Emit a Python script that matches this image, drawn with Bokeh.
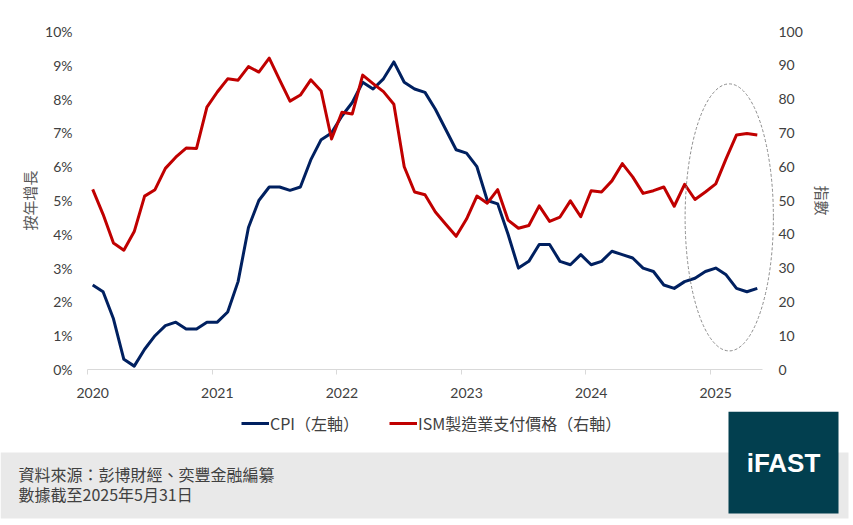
import pandas as pd
from bokeh.plotting import figure
from bokeh.layouts import column
from bokeh.models import (Range1d, LinearAxis, FixedTicker, Legend, LegendItem,
                          ColumnDataSource)
from bokeh.core.properties import value
from bokeh.embed import file_html
from bokeh.resources import INLINE

# ---------------- data ----------------
months = pd.period_range("2020-01", "2025-05", freq="M").strftime("%Y-%m").tolist()

cpi = [2.5, 2.3, 1.5, 0.3, 0.1, 0.6, 1.0, 1.3, 1.4, 1.2, 1.2, 1.4,
       1.4, 1.7, 2.6, 4.2, 5.0, 5.4, 5.4, 5.3, 5.4, 6.2, 6.8, 7.0,
       7.5, 7.9, 8.5, 8.3, 8.6, 9.1, 8.5, 8.3, 8.2, 7.7, 7.1, 6.5,
       6.4, 6.0, 5.0, 4.9, 4.0, 3.0, 3.2, 3.7, 3.7, 3.2, 3.1, 3.4,
       3.1, 3.2, 3.5, 3.4, 3.3, 3.0, 2.9, 2.5, 2.4, 2.6, 2.7, 2.9,
       3.0, 2.8, 2.4, 2.3, 2.4]

ism = [53.3, 45.9, 37.4, 35.3, 40.8, 51.3, 53.2, 59.5, 62.8, 65.5, 65.4, 77.6,
       82.1, 86.0, 85.6, 89.6, 88.0, 92.1, 85.7, 79.4, 81.2, 85.7, 82.4, 68.2,
       76.1, 75.6, 87.1, 84.6, 82.2, 78.5, 60.0, 52.5, 51.7, 46.6, 43.0, 39.4,
       44.5, 51.3, 49.2, 53.2, 44.2, 41.8, 42.6, 48.4, 43.8, 45.1, 49.9, 45.2,
       52.9, 52.5, 55.8, 60.9, 57.0, 52.1, 52.9, 54.0, 48.3, 54.8, 50.3, 52.5,
       54.9, 62.4, 69.4, 69.8, 69.4]

year_labels = ["2020", "2021", "2022", "2023", "2024", "2025"]
left_ticks = list(range(0, 11))
right_ticks = list(range(0, 101, 10))

cpi_label = "CPI（左軸）"
ism_label = "ISM製造業支付價格（右軸）"
left_title = "按年增長"
right_title = "指數"
source_note = "資料來源：彭博財經、奕豐金融編纂"
date_note = "數據截至2025年5月31日"
logo_text = "iFAST"

# highlight ellipse (annotation) around recent months, right-axis units
hl_month = "2025-02"
hl_width_months = 8.5
hl_y_center = 45
hl_y_height = 79
hl_headroom_months = 1.35   # room right of the axis so the ellipse is not cut

CPI_COLOR = "#002060"
ISM_COLOR = "#C00000"
TICK_FONT = "Lato"
CJK_FONT = "Noto Sans CJK TC"
TXT = "#404040"

# ---------------- main chart ----------------
W = 853
FW, FH = 689, 338
BL, BR, BT, BB = 87, 77, 31, 42
H_TOP = BT + FH + BB        # 411
H_BOT = 525 - H_TOP         # 114

idx = list(range(len(months)))
src = ColumnDataSource(dict(idx=idx, month=months, cpi=cpi, ism=ism))

x_start = -0.5
x_data_end = len(months) - 0.5

p = figure(frame_width=FW, frame_height=FH, output_backend="svg", toolbar_location=None,
           x_range=Range1d(x_start, x_data_end + hl_headroom_months),
           y_range=Range1d(0, 10),
           min_border_left=BL, min_border_right=BR, min_border_top=BT,
           min_border_bottom=BB, background_fill_color="white",
           border_fill_color="white")
p.frame_align = False
p.extra_y_ranges = {"right": Range1d(0, 100)}
p.outline_line_color = None
p.xgrid.visible = False
p.ygrid.visible = False

# x axis
year_pos = [months.index(f"{y}-01") for y in year_labels]
p.xaxis.ticker = FixedTicker(ticks=year_pos, minor_ticks=[v - 0.5 for v in year_pos])
p.xaxis.major_label_overrides = {v: y for v, y in zip(year_pos, year_labels)}
p.xaxis.bounds = (x_start, x_data_end)
p.xaxis.axis_line_color = "#d9d9d9"
p.xaxis.major_tick_line_color = None
p.xaxis.major_tick_out = 0
p.xaxis.major_tick_in = 0
p.xaxis.minor_tick_line_color = "#d9d9d9"
p.xaxis.minor_tick_out = 5
p.xaxis.minor_tick_in = 0
p.xaxis.major_label_standoff = 13
p.xaxis.major_label_text_font = TICK_FONT
p.xaxis.major_label_text_font_size = "14px"
p.xaxis.major_label_text_color = TXT

# left axis
p.yaxis.ticker = FixedTicker(ticks=left_ticks)
p.yaxis.major_label_overrides = {t: f"{t}%" for t in left_ticks}
p.yaxis.axis_line_color = None
p.yaxis.major_tick_line_color = None
p.yaxis.minor_tick_line_color = None
p.yaxis.major_tick_out = 0
p.yaxis.major_label_standoff = 15
p.yaxis.major_label_text_font = TICK_FONT
p.yaxis.major_label_text_font_size = "14px"
p.yaxis.major_label_text_color = TXT
p.yaxis.axis_label = left_title
p.yaxis.axis_label_text_font = CJK_FONT
p.yaxis.axis_label_text_font_size = "15px"
p.yaxis.axis_label_text_font_style = "normal"
p.yaxis.axis_label_text_color = "#595959"
p.yaxis.axis_label_standoff = 2

# right axis
ra = LinearAxis(y_range_name="right", ticker=FixedTicker(ticks=right_ticks))
ra.axis_line_color = None
ra.major_tick_line_color = None
ra.minor_tick_line_color = None
ra.major_tick_out = 0
ra.major_label_standoff = 2
ra.major_label_text_font = TICK_FONT
ra.major_label_text_font_size = "14px"
ra.major_label_text_color = TXT
ra.axis_label = right_title
ra.axis_label_text_font = CJK_FONT
ra.axis_label_text_font_size = "15px"
ra.axis_label_text_font_style = "normal"
ra.axis_label_text_color = "#595959"
ra.axis_label_standoff = 6
p.add_layout(ra, "right")

# lines
p.line("idx", "cpi", source=src, line_color=CPI_COLOR, line_width=3, line_join="round")
p.line("idx", "ism", source=src, y_range_name="right", line_color=ISM_COLOR,
       line_width=3, line_join="round")

# highlight ellipse
p.ellipse(x=[months.index(hl_month) + 0.3], y=[hl_y_center],
          width=[hl_width_months], height=[hl_y_height], y_range_name="right",
          fill_color=None, line_color="#8c8c8c", line_width=1, line_dash="3 2")

# ---------------- footer (legend + source + logo) ----------------
# page-pixel coordinate space for the strip below the chart (y grows downward)
f = figure(width=W, height=H_BOT, output_backend="svg", toolbar_location=None,
           x_range=Range1d(0, W), y_range=Range1d(525, H_TOP),
           x_axis_type=None, y_axis_type=None, min_border=0,
           min_border_left=0, min_border_right=0, min_border_top=0,
           min_border_bottom=0,
           background_fill_color="white", border_fill_color="white")
f.frame_align = False
f.outline_line_color = None
f.xgrid.visible = False
f.ygrid.visible = False

# grey band
f.quad(left=[0], right=[848], top=[452], bottom=[518], fill_color="#e9e9e9",
       line_color=None)

# logo
f.quad(left=[728], right=[838], top=[411], bottom=[513], fill_color="#023f4f",
       line_color=None)
f.text(x=[783], y=[462], text=[logo_text], text_align="center",
       text_baseline="middle", text_font=value("Liberation Sans"),
       text_font_style="bold", text_font_size="26px", text_color="white")

# source notes
f.text(x=[18, 18], y=[473, 493], text=[source_note, date_note], text_align="left",
       text_baseline="middle", text_font=value(CJK_FONT), text_font_size="16px",
       text_color=TXT)

# legend keys mirror the two series' line styles (no visible data of their own)
k_cpi = f.line(x=[float("nan")], y=[float("nan")], line_color=CPI_COLOR, line_width=3)
k_ism = f.line(x=[float("nan")], y=[float("nan")], line_color=ISM_COLOR, line_width=3)
legend = Legend(items=[LegendItem(label=cpi_label, renderers=[k_cpi], index=0),
                       LegendItem(label=ism_label, renderers=[k_ism], index=0)],
                orientation="horizontal", location=(241, 525 - 436),
                label_text_font=CJK_FONT, label_text_font_size="16px",
                label_text_color=TXT, glyph_width=28, glyph_height=26,
                label_height=26, label_standoff=1, spacing=30, padding=0, margin=0,
                border_line_color=None, background_fill_alpha=0)
f.add_layout(legend)

layout = column(p, f, spacing=0)
open("out.html", "w").write(file_html(layout, INLINE))
